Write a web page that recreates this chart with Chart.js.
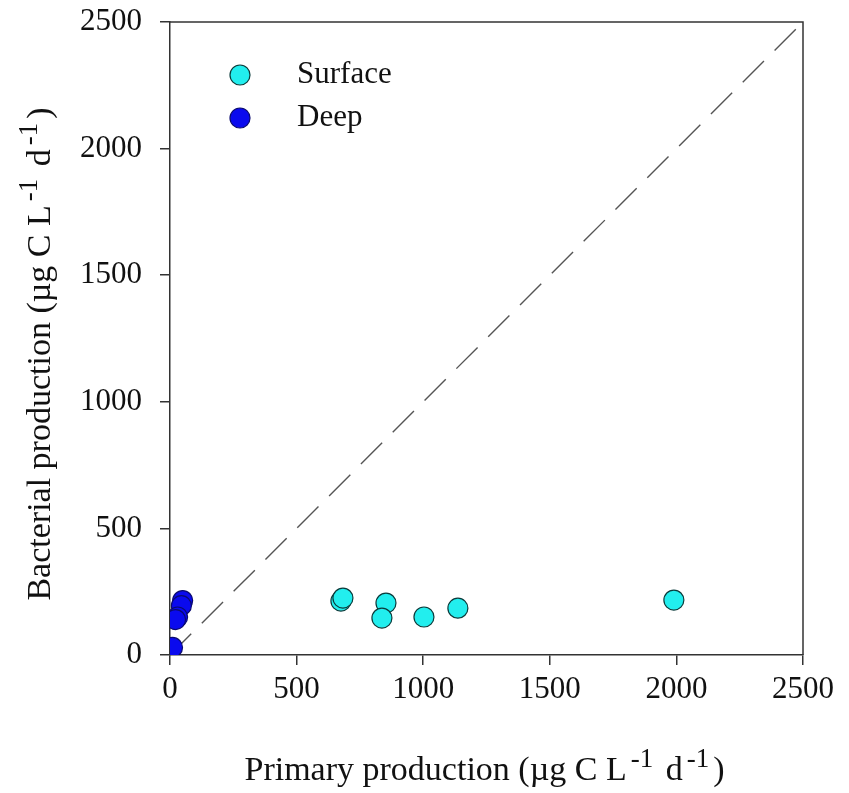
<!DOCTYPE html>
<html>
<head>
<meta charset="utf-8">
<script src="https://cdn.jsdelivr.net/npm/chart.js@4.4.1/dist/chart.umd.min.js"></script>
<style>
  html, body { margin: 0; padding: 0; background: #fff; }
  #wrap { width: 849px; height: 793px; }
</style>
</head>
<body>
<div id="wrap"><canvas id="myChart" width="849" height="793"></canvas></div>
<script>
// data (ug C L-1 d-1)
const surfacePrimary = [675, 683, 853, 837, 1003, 1137, 1990];
const surfaceBacterial = [213, 225, 205, 146, 150, 185, 217];
const deepPrimary = [50, 45, 30, 22, 10];
const deepBacterial = [215, 195, 150, 140, 30];
const oneToOneX = [0, 2500];
const oneToOneY = [0, 2500];
const tickValues = [0, 500, 1000, 1500, 2000, 2500];

const FONT = '"Liberation Serif", "Times New Roman", serif';

function toPoints(xs, ys) {
    return xs.map((x, i) => ({ x: x, y: ys[i] }));
}

// draws the box, the legend and the axis titles with superscripts
const extras = {
    id: 'extras',
    afterDraw(chart) {
        const ctx = chart.ctx;
        const a = chart.chartArea;
        ctx.save();
        ctx.strokeStyle = '#333';
        ctx.lineWidth = 1.5;
        ctx.beginPath();
        ctx.moveTo(a.left, a.top);
        ctx.lineTo(a.right, a.top);
        ctx.lineTo(a.right, a.bottom);
        ctx.stroke();

        // legend
        const items = [chart.data.datasets[0], chart.data.datasets[1]];
        items.forEach((ds, i) => {
            const y = 75 + i * 43;
            ctx.beginPath();
            ctx.arc(240, y, 10, 0, Math.PI * 2);
            ctx.fillStyle = ds.backgroundColor;
            ctx.fill();
            ctx.lineWidth = 1.2;
            ctx.strokeStyle = ds.borderColor;
            ctx.stroke();
            ctx.fillStyle = '#111';
            ctx.font = '31px ' + FONT;
            ctx.textBaseline = 'middle';
            ctx.textAlign = 'left';
            ctx.fillText(ds.label, 297, y);
        });

        // axis titles
        const parts = (name) => [
            [name + ' (\u00b5g C L', false],
            ['-1', true],
            [' d', false],
            ['-1', true],
            [')', false]
        ];
        function drawTitle(p, cx, cy, rot) {
            ctx.save();
            ctx.translate(cx, cy);
            ctx.rotate(rot);
            let w = 0;
            p.forEach(([t, sup]) => {
                ctx.font = (sup ? '27px ' : '34px ') + FONT;
                w += ctx.measureText(t).width + 4;
            });
            let x = -w / 2;
            ctx.textAlign = 'left';
            ctx.textBaseline = 'alphabetic';
            ctx.fillStyle = '#111';
            p.forEach(([t, sup]) => {
                ctx.font = (sup ? '27px ' : '34px ') + FONT;
                ctx.fillText(t, x, sup ? -3 : 10);
                x += ctx.measureText(t).width + 4;
            });
            ctx.restore();
        }
        drawTitle(parts('Primary production'), (a.left + a.right) / 2, 770, 0);
        drawTitle(parts('Bacterial production'), 40, 352, -Math.PI / 2);
        ctx.restore();
    }
};

const data = {
    datasets: [{
            label: 'Surface',
            data: toPoints(surfacePrimary, surfaceBacterial),
            backgroundColor: '#22eeee',
            borderColor: '#0b3b3b',
            borderWidth: 1.2,
            pointRadius: 10,
            order: 1
        },
        {
            label: 'Deep',
            data: toPoints(deepPrimary, deepBacterial),
            backgroundColor: '#0a0aee',
            borderColor: '#0a0a70',
            borderWidth: 1.2,
            pointRadius: 10,
            order: 0
        },
        {
            label: '1:1',
            type: 'line',
            data: toPoints(oneToOneX, oneToOneY),
            borderColor: '#555',
            borderWidth: 1.4,
            borderDash: [30, 15],
            pointRadius: 0,
            fill: false,
            order: 2
        }
    ]
};

const tickOpts = {
    color: '#111',
    font: { family: FONT, size: 31 },
    callback: (v) => String(v)
};

const config = {
    type: 'scatter',
    data: data,
    options: {
        responsive: false,
        animation: false,
        layout: { padding: { top: 22, right: 46, left: 0, bottom: 0 } },
        plugins: { legend: { display: false }, tooltip: { enabled: false } },
        scales: {
            x: {
                type: 'linear',
                min: 0,
                max: 2500,
                afterBuildTicks: (s) => { s.ticks = tickValues.map(v => ({ value: v })); },
                afterFit: (s) => { s.height = 138; s.paddingLeft = 0; s.paddingRight = 0; },
                ticks: Object.assign({ padding: 6, maxRotation: 0 }, tickOpts),
                grid: { drawOnChartArea: false, drawTicks: true, tickLength: 10, color: '#333', lineWidth: 1.5 },
                border: { display: true, color: '#333', width: 1.5 }
            },
            y: {
                type: 'linear',
                min: 0,
                max: 2500,
                afterBuildTicks: (s) => { s.ticks = tickValues.map(v => ({ value: v })); },
                afterFit: (s) => { s.width = 170; s.paddingTop = 0; s.paddingBottom = 0; },
                ticks: Object.assign({ padding: 18 }, tickOpts),
                grid: { drawOnChartArea: false, drawTicks: true, tickLength: 10, color: '#333', lineWidth: 1.5 },
                border: { display: true, color: '#333', width: 1.5 }
            }
        }
    },
    plugins: [extras]
};

const myChart = new Chart(document.getElementById('myChart'), config);
</script>
</body>
</html>
